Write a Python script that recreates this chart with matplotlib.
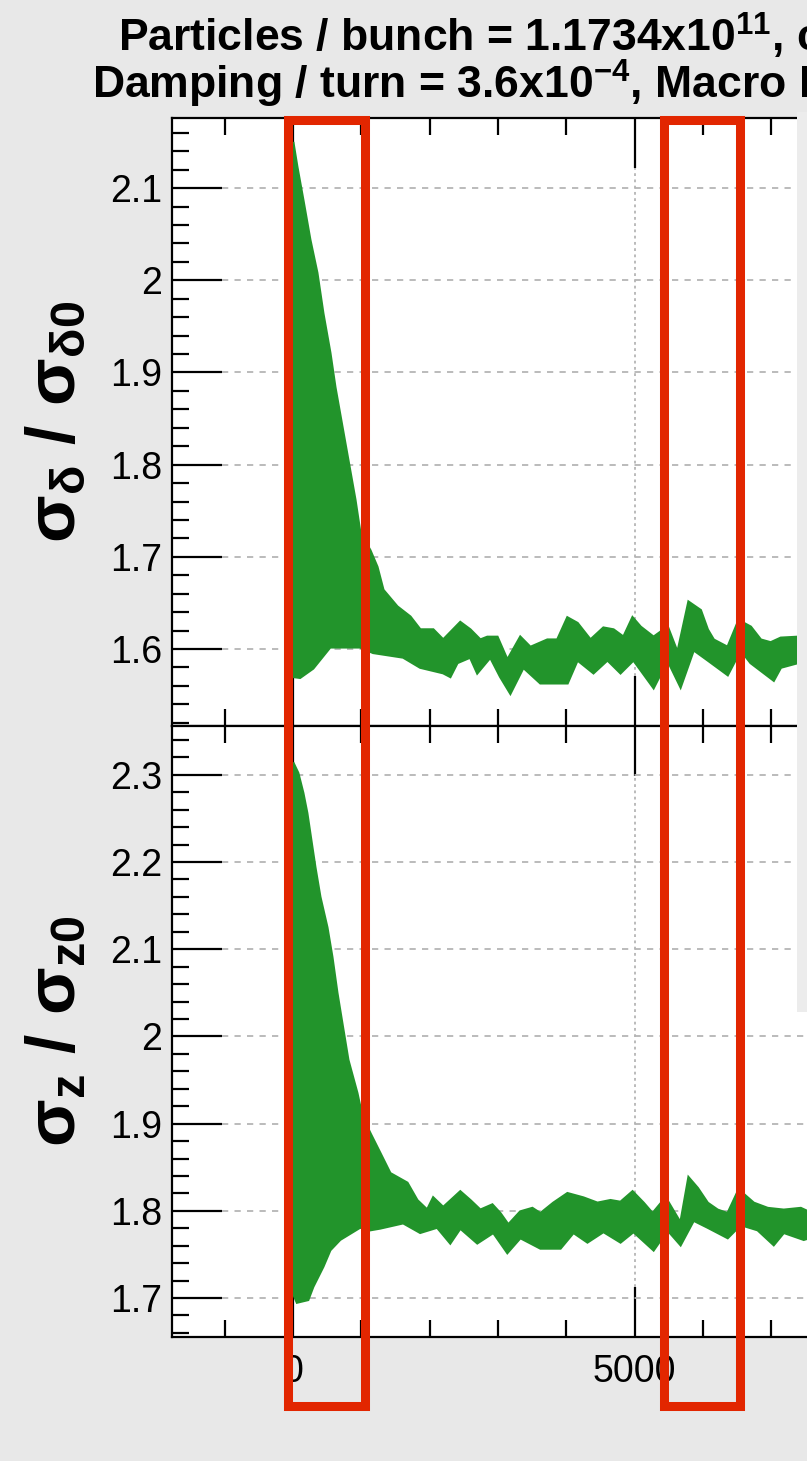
import numpy as np
import matplotlib
matplotlib.use("Agg")
import matplotlib.pyplot as plt
from matplotlib.patches import Rectangle
from matplotlib.ticker import MultipleLocator, FuncFormatter

plt.rcParams.update({
    "font.family": ["Liberation Sans", "DejaVu Sans"],
    "mathtext.fontset": "custom",
    "mathtext.rm": "Liberation Sans:bold",
    "mathtext.it": "Liberation Sans:bold",
    "mathtext.bf": "Liberation Sans:bold",
    "mathtext.default": "rm",
    "lines.scale_dashes": False,
})

# envelope of sigma_delta / sigma_delta0 vs turn
turns_dp_hi = [0, 59, 147, 249, 352, 440, 543, 616, 909, 982, 1129, 1232, 1320, 1525,
               1716, 1862, 2053, 2199, 2449, 2595, 2742, 2845, 2991, 3138, 3328, 3475,
               3724, 3871, 4018, 4164, 4355, 4545, 4692, 4839, 4971, 5088, 5279, 5484,
               5630, 5792, 5968, 6070, 6158, 6364, 6525, 6701, 6848, 6994, 7141, 7390, 7600]
dp_hi = [2.150, 2.123, 2.087, 2.044, 2.008, 1.964, 1.921, 1.884, 1.762, 1.726, 1.707,
         1.689, 1.664, 1.646, 1.635, 1.621, 1.621, 1.610, 1.629, 1.621, 1.610, 1.613,
         1.613, 1.588, 1.613, 1.602, 1.610, 1.610, 1.634, 1.628, 1.610, 1.623, 1.621,
         1.613, 1.634, 1.624, 1.613, 1.624, 1.596, 1.651, 1.642, 1.621, 1.610, 1.602,
         1.631, 1.624, 1.610, 1.607, 1.612, 1.613, 1.613]
turns_dp_lo = [0, 103, 293, 543, 982, 1173, 1613, 1862, 2199, 2302, 2405, 2595, 2698,
               2889, 3035, 3182, 3372, 3622, 4018, 4164, 4399, 4604, 4795, 4985, 5279,
               5484, 5674, 5865, 6070, 6364, 6554, 6701, 7038, 7141, 7390, 7600]
dp_lo = [1.570, 1.569, 1.579, 1.602, 1.602, 1.596, 1.591, 1.580, 1.574, 1.570, 1.585,
         1.591, 1.574, 1.591, 1.570, 1.552, 1.580, 1.563, 1.563, 1.588, 1.574, 1.588,
         1.574, 1.588, 1.558, 1.588, 1.559, 1.599, 1.588, 1.572, 1.599, 1.585, 1.566,
         1.580, 1.585, 1.582]

# envelope of sigma_z / sigma_z0 vs turn
turns_sz_hi = [0, 73, 147, 205, 279, 323, 396, 499, 572, 645, 718, 806, 938, 1012, 1129,
               1276, 1422, 1672, 1818, 1965, 2053, 2199, 2449, 2595, 2742, 2918, 3035,
               3152, 3328, 3504, 3622, 3812, 4018, 4252, 4457, 4648, 4795, 4971, 5132,
               5264, 5455, 5674, 5792, 5924, 6070, 6217, 6364, 6525, 6745, 6950, 7185,
               7434, 7600]
sz_hi = [2.314, 2.302, 2.279, 2.256, 2.217, 2.194, 2.160, 2.125, 2.091, 2.050, 2.015,
         1.973, 1.935, 1.908, 1.889, 1.866, 1.843, 1.832, 1.812, 1.801, 1.815, 1.804,
         1.822, 1.812, 1.801, 1.807, 1.797, 1.784, 1.799, 1.803, 1.797, 1.809, 1.820,
         1.815, 1.809, 1.812, 1.810, 1.822, 1.809, 1.797, 1.815, 1.786, 1.838, 1.826,
         1.809, 1.801, 1.797, 1.824, 1.809, 1.803, 1.801, 1.803, 1.797]
turns_sz_lo = [0, 59, 220, 293, 440, 543, 689, 982, 1129, 1276, 1613, 1862, 2111, 2302,
               2449, 2698, 2933, 3138, 3328, 3622, 3915, 4106, 4311, 4545, 4795, 4985,
               5279, 5484, 5674, 5865, 6070, 6364, 6554, 6804, 7038, 7185, 7478, 7600]
sz_lo = [1.706, 1.695, 1.698, 1.713, 1.736, 1.755, 1.767, 1.781, 1.778, 1.780, 1.786,
         1.775, 1.781, 1.763, 1.780, 1.763, 1.775, 1.752, 1.769, 1.757, 1.757, 1.775,
         1.764, 1.776, 1.764, 1.776, 1.755, 1.778, 1.761, 1.789, 1.781, 1.769, 1.784,
         1.778, 1.761, 1.775, 1.767, 1.770]

W, H = 807, 1461
GREEN = "#22942b"
RED = "#e22600"
BG = "#e8e8e8"


def fx(px):
    return px / W


def fy(py):
    return 1 - py / H


fig = plt.figure(figsize=(W / 100, H / 100), dpi=100)
fig.patch.set_facecolor(BG)

left, right = 172, 1000
ax1 = fig.add_axes([fx(left), fy(726), (right - left) / W, (726 - 118) / H])
ax2 = fig.add_axes([fx(left), fy(1337), (right - left) / W, (1337 - 726) / H])


def band(ax, xh, yh, xl, yl):
    xs = np.concatenate([xh, xl[::-1]])
    ys = np.concatenate([yh, yl[::-1]])
    ax.fill(xs, ys, facecolor=GREEN, edgecolor=GREEN, lw=2, zorder=3)


band(ax1, turns_dp_hi, dp_hi, turns_dp_lo, dp_lo)
band(ax2, turns_sz_hi, sz_hi, turns_sz_lo, sz_lo)

ax1.set_ylim(1.5165, 2.176)
ax2.set_ylim(1.6553, 2.356)

yfmt = FuncFormatter(lambda v, p: "%g" % round(v, 2))
xfmt = FuncFormatter(lambda v, p: "%d" % v if v < 7600 else "")
for ax in (ax1, ax2):
    ax.set_facecolor("white")
    ax.set_xlim(-1772, 10351)
    ax.xaxis.set_major_locator(MultipleLocator(5000))
    ax.xaxis.set_minor_locator(MultipleLocator(1000))
    ax.xaxis.set_major_formatter(xfmt)
    ax.yaxis.set_major_locator(MultipleLocator(0.1))
    ax.yaxis.set_minor_locator(MultipleLocator(0.02))
    ax.yaxis.set_major_formatter(yfmt)
    ax.tick_params(which="both", direction="in", top=True, right=True,
                   width=1.6, labelsize=27, color="black")
    ax.tick_params(which="major", length=36)
    ax.tick_params(which="minor", length=12)
    ax.tick_params(axis="y", pad=7)
    ax.tick_params(axis="x", pad=12)
    ax.grid(axis="y", which="major", color="#b5b5b5", ls=(0, (4.5, 4.5)), lw=1.3)
    ax.grid(axis="x", which="major", color="#b5b5b5", ls=(0, (2, 2.5)), lw=1.3)
    for s in ax.spines.values():
        s.set_linewidth(1.6)

ax1.tick_params(axis="x", labelbottom=False)

ax1.set_ylabel(r"$\sigma_\delta$ / $\sigma_{\delta 0}$", fontsize=50, fontweight="bold", va="center")
ax2.set_ylabel(r"$\sigma_z$ / $\sigma_{z0}$", fontsize=50, fontweight="bold", va="center")
for ax in (ax1, ax2):
    ax.yaxis.set_label_coords((57 - left) / (right - left), 0.5)

fig.text(fx(118), fy(52), r"Particles / bunch = 1.1734x10$^{11}$, c",
         fontsize=32, fontweight="bold", va="baseline", ha="left")
fig.text(fx(92), fy(99), r"Damping / turn = 3.6x10$^{-4}$, Macro Particles",
         fontsize=32, fontweight="bold", va="baseline", ha="left")

# strip of the neighbouring panel on the right edge
fig.add_artist(Rectangle((fx(797), fy(1012)), fx(W - 797), (1012 - 112) / H,
                         transform=fig.transFigure, facecolor="#ececec",
                         edgecolor="none", zorder=9))

# highlight boxes
for x0, x1 in [(287.5, 364.5), (663.5, 739.5)]:
    fig.add_artist(Rectangle((fx(x0), fy(1405.5)), fx(x1 - x0), (1405.5 - 119.5) / H,
                             transform=fig.transFigure, fill=False,
                             edgecolor=RED, lw=6.5, zorder=10))

fig.savefig("out.png", dpi=100, facecolor=BG)
